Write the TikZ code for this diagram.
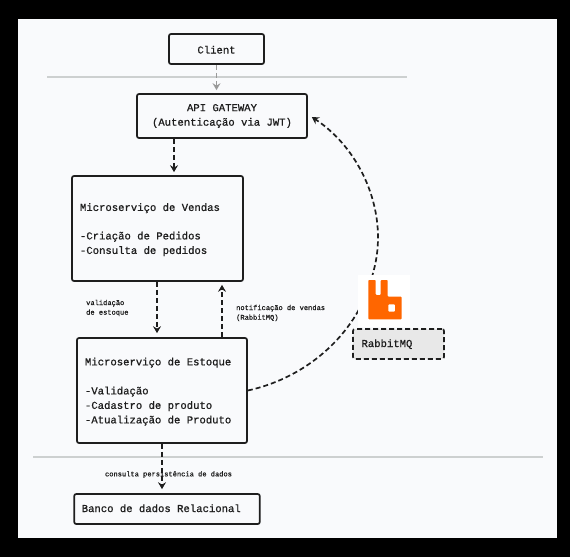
\documentclass[tikz,border=0pt]{standalone}
\usepackage{fontspec}
\setmainfont[RawFeature={embolden=0.9}]{Liberation Mono}
\usetikzlibrary{arrows.meta}
\definecolor{panel}{HTML}{F9FAFC}
\definecolor{ink}{HTML}{1E1E1E}
\definecolor{sepline}{HTML}{CDD0D0}
\definecolor{rabbit}{HTML}{FF6600}
\newcommand{\lowerby}[1]{\rule[-#1]{0pt}{#1}}
\tikzset{
  x=1pt,y=-1pt,
  box/.style={draw=ink,line width=1.7pt,rounded corners=2pt,fill=panel,text=ink,font=\fontsize{10.6}{14.5}\selectfont,inner ysep=0pt,inner xsep=8pt,execute at begin node={\rule{0pt}{10pt}}},
  conn/.style={draw=ink,line width=1.7pt,dash pattern=on 5pt off 3pt,-{Stealth[length=7pt,width=8pt,inset=2.5pt]}},
  graycon/.style={conn,draw=gray!80,line width=1.5pt},
  seplin/.style={draw=sepline,line width=1.2pt},
  small/.style={text=ink,font=\fontsize{7.05}{9.6}\selectfont,inner sep=0pt,align=flush left}
}
\begin{document}
\begin{tikzpicture}
\useasboundingbox (0,0) rectangle (570,557);
\fill[black] (0,0) rectangle (570,557);
\fill[panel] (18,19) rectangle (557,538);
\draw[seplin] (47,77) -- (407,77);
\draw[seplin] (33,457) -- (543,457);
\node[box,minimum width=95pt,minimum height=30pt,align=flush center] (client) at (216.5,49) {Client\lowerby{1pt}};
\node[box,minimum width=170pt,minimum height=44pt,align=flush center] (api) at (222,116) {API GATEWAY\\(Autenticação via JWT)};
\node[box,text width=155pt,minimum height=105pt,align=flush left] (vendas) at (157.5,228.5) {Microserviço de Vendas\\[14pt]-Criação de Pedidos\\-Consulta de pedidos};
\node[box,text width=154pt,minimum height=105pt,align=flush left] (estoque) at (162,390.5) {Microserviço de Estoque\\[14.5pt]-Validação\\-Cadastro de produto\\-Atualização de Produto};
\node[box,text width=170.5pt,inner xsep=7.5pt,minimum height=30pt,align=flush left] (banco) at (167,509) {Banco de dados Relacional\lowerby{4pt}};
\node[box,draw=ink,fill=black!9,dash pattern=on 5pt off 3pt,text width=74pt,inner xsep=8.5pt,minimum height=30pt,align=flush left] (rmq) at (398.5,344) {RabbitMQ\lowerby{4pt}};
\draw[graycon,shorten >=3pt] (client.south) -- (client.south |- api.north);
\draw[conn,shorten >=3pt] ([xshift=-48pt]api.south) -- ([xshift=16.5pt]vendas.north);
\draw[conn,shorten >=4pt] ([xshift=-0.5pt]vendas.south) -- ([xshift=-0.5pt]vendas.south |- estoque.north);
\draw[conn,shorten >=3pt] ([xshift=60pt]estoque.north) -- ([xshift=64.5pt]vendas.south);
\draw[conn,shorten >=4pt] (estoque.south) -- (estoque.south |- banco.north);
\node[small,anchor=west] (lblval) at (86,308) {validação\\de estoque};
\node[small,anchor=west] (lblnot) at (236,313) {notificação de vendas\\(RabbitMQ)};
\node[small,anchor=center] (lblcon) at (168.5,474.5) {consulta persistência de dados};
\coordinate (mid) at (373,273);
\draw[conn] (estoque.east) .. controls (310,377) and (360,330) .. (mid) .. controls (390,215) and (362,150) .. ([xshift=4pt,yshift=-1pt]api.east);
\fill[white] (358,275) rectangle (410,327);
\fill[rabbit,even odd rule,rounded corners=0.8pt] (368.3,280) -- (375.7,280) -- (375.7,295) -- (380.7,295) -- (380.7,280) -- (387.7,280) -- (387.7,296.7) -- (401.7,296.7) -- (401.7,319.3) -- (368.3,319.3) -- cycle
  (388.3,304.3) -- (395,304.3) -- (395,311.7) -- (388.3,311.7) -- cycle;
\end{tikzpicture}
\end{document}
